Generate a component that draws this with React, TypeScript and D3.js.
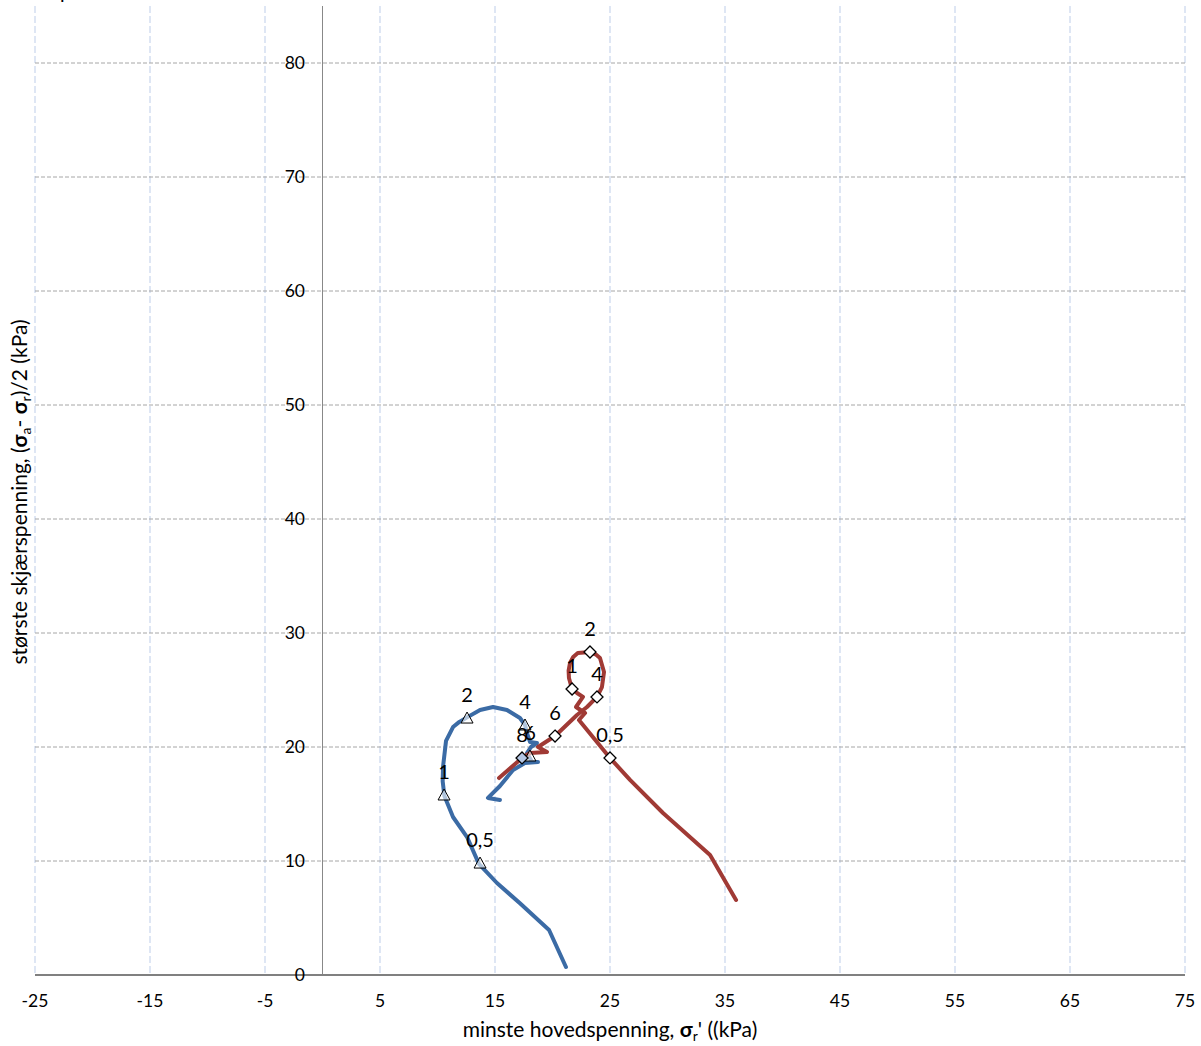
import React from "react";
import * as d3 from "d3";

const xTicks = [-25, -15, -5, 5, 15, 25, 35, 45, 55, 65, 75];
const yTicks = [0, 10, 20, 30, 40, 50, 60, 70, 80];

const blueX = [21.17, 19.7, 17.17, 15.17, 13.6, 12.57, 11.35, 10.6, 10.45, 10.48, 10.74, 11.35, 11.9, 12.57, 13.7, 14.83, 16.04, 17.17, 17.61, 17.78, 18.04, 18.65, 18.13, 17.78, 18.22, 18.74, 17.6, 16.57, 15.43, 14.39, 15.43];
const blueY = [0.7, 3.95, 6.29, 8.07, 9.75, 12.1, 13.86, 15.7, 17.0, 18.25, 20.53, 21.75, 22.2, 22.6, 23.25, 23.51, 23.25, 22.54, 21.93, 21.23, 20.44, 20.35, 20.0, 19.47, 18.68, 18.68, 18.6, 17.98, 16.58, 15.53, 15.35];

const redX = [35.96, 33.7, 29.61, 26.74, 25.0, 22.3, 22.83, 22.04, 22.65, 22.13, 21.7, 21.43, 21.4, 21.52, 21.8, 22.2, 23.26, 23.8, 24.13, 24.48, 24.3, 23.87, 23.0, 22.13, 20.22, 18.74, 19.52, 18.04, 17.35, 15.35];
const redY = [6.58, 10.53, 14.21, 17.11, 19.04, 22.37, 22.98, 23.51, 24.39, 24.74, 25.09, 26.05, 26.7, 27.37, 27.9, 28.25, 28.33, 28.1, 27.81, 26.58, 25.26, 24.39, 23.51, 22.81, 20.96, 20.0, 19.56, 19.47, 19.04, 17.28];

const blueMarkX = [13.7, 10.57, 12.57, 17.61, 18.04];
const blueMarkY = [9.82, 15.79, 22.54, 21.93, 19.21];
const blueMarkLabels = ["0,5", "1", "2", "4", "6"];

const redMarkX = [25.0, 21.7, 23.26, 23.87, 20.22, 17.35];
const redMarkY = [19.04, 25.09, 28.33, 24.39, 20.96, 19.04];
const redMarkLabels = ["0,5", "1", "2", "4", "6", "8"];

const FONT = "Lato, 'Open Sans', sans-serif";

export default function App() {
  const W = 1201, H = 1046;
  const x = d3.scaleLinear().domain([-25, 75]).range([35, 1185]);
  const y = d3.scaleLinear().domain([0, 80]).range([975, 63]);
  const yTop = y(85);

  const line = d3
    .line<[number, number]>()
    .x((d) => x(d[0]))
    .y((d) => y(d[1]))
    .curve(d3.curveLinear);

  const bluePts = blueX.map((v, i) => [v, blueY[i]] as [number, number]);
  const redPts = redX.map((v, i) => [v, redY[i]] as [number, number]);

  const tri = (cx: number, cy: number) =>
    `M${cx},${cy - 6}L${cx + 6},${cy + 5}L${cx - 6},${cy + 5}Z`;
  const dia = (cx: number, cy: number) =>
    `M${cx},${cy - 6}L${cx + 6},${cy}L${cx},${cy + 6}L${cx - 6},${cy}Z`;

  return (
    <svg
      width={W}
      height={H}
      style={{ position: "absolute", left: 0, top: 0, background: "#fff" }}
      fontFamily={FONT}
    >
      <rect width={W} height={H} fill="#fff" />
      <text x={60} y={-1} fontSize={20} fill="#000">p</text>
      {xTicks.map((t) => (
        <line
          key={"vg" + t}
          x1={x(t)}
          x2={x(t)}
          y1={yTop}
          y2={y(0)}
          stroke="#cdd9ee"
          strokeWidth={1.3}
          strokeDasharray="7,3"
        />
      ))}
      {yTicks.filter((t) => t > 0).map((t) => (
        <line
          key={"hg" + t}
          x1={x(-25)}
          x2={x(75)}
          y1={y(t)}
          y2={y(t)}
          stroke="#a6a6a6"
          strokeWidth={1}
          strokeDasharray="4,2"
        />
      ))}
      <line x1={x(0)} x2={x(0)} y1={yTop} y2={y(0)} stroke="#888" strokeWidth={1} />
      <line x1={x(-25)} x2={x(75)} y1={y(0)} y2={y(0)} stroke="#808080" strokeWidth={2} />
      {yTicks.map((t) => (
        <text key={"yl" + t} x={305} y={y(t)} dy="0.35em" textAnchor="end" fontSize={17.5} fill="#000">
          {t}
        </text>
      ))}
      {xTicks.map((t) => (
        <text key={"xl" + t} x={x(t)} y={1001} dy="0.35em" textAnchor="middle" fontSize={17.5} fill="#000">
          {t}
        </text>
      ))}
      <path d={line(bluePts) || ""} fill="none" stroke="#3b6ba5" strokeWidth={4} strokeLinejoin="round" strokeLinecap="round" />
      <path d={line(redPts) || ""} fill="none" stroke="#a03a35" strokeWidth={4} strokeLinejoin="round" strokeLinecap="round" />
      {blueMarkX.map((v, i) => (
        <path key={"bm" + i} d={tri(x(v), y(blueMarkY[i]))} fill="#fff" fillOpacity={0.6} stroke="#000" strokeWidth={1} />
      ))}
      {redMarkX.map((v, i) => (
        <path
          key={"rm" + i}
          d={dia(x(v), y(redMarkY[i]))}
          fill={i === redMarkX.length - 1 ? "#b4c6e4" : "#fff"}
          stroke="#000"
          strokeWidth={1.3}
        />
      ))}
      {blueMarkX.map((v, i) => (
        <text key={"bl" + i} x={x(v)} y={y(blueMarkY[i]) - 23} dy="0.35em" textAnchor="middle" fontSize={20} fill="#000">
          {blueMarkLabels[i]}
        </text>
      ))}
      {redMarkX.map((v, i) => (
        <text key={"rl" + i} x={x(v)} y={y(redMarkY[i]) - 23} dy="0.35em" textAnchor="middle" fontSize={20} fill="#000">
          {redMarkLabels[i]}
        </text>
      ))}
      <text x={610} y={1037} textAnchor="middle" fontSize={21} fill="#000">
        minste hovedspenning, <tspan fontWeight="bold">σ</tspan>
        <tspan fontSize={14} dy={4}>r</tspan>
        <tspan dy={-4}>' ((kPa)</tspan>
      </text>
      <text transform={`translate(27,492) rotate(-90)`} textAnchor="middle" fontSize={21} fill="#000">
        største skjærspenning, (<tspan fontWeight="bold">σ</tspan>
        <tspan fontSize={14} dy={4}>a</tspan>
        <tspan dy={-4}>- </tspan>
        <tspan fontWeight="bold">σ</tspan>
        <tspan fontSize={14} dy={4}>r</tspan>
        <tspan dy={-4}>)/2 (kPa)</tspan>
      </text>
    </svg>
  );
}
